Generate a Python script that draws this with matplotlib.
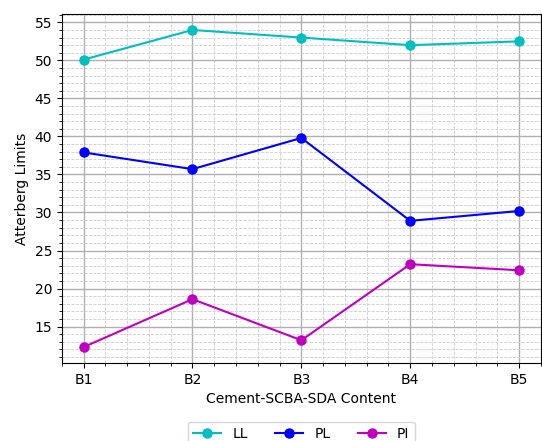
import numpy as np
import matplotlib.pyplot as plt
from matplotlib.ticker import MultipleLocator

# Atterberg limits per mix
mixes = ["B1", "B2", "B3", "B4", "B5"]
ll = [50.1, 54.0, 53.0, 52.0, 52.5]
pl = [37.9, 35.7, 39.8, 28.9, 30.2]
pi = [12.3, 18.6, 13.2, 23.2, 22.4]

fig = plt.figure(figsize=(5.42, 4.41), dpi=100)
ax = fig.add_axes([0.114, 0.177, 0.884, 0.791])

x = np.arange(len(mixes))
ax.plot(x, ll, "c-o", label="LL", markersize=6.5, linewidth=1.5)
ax.plot(x, pl, "b-o", label="PL", markersize=6.5, linewidth=1.5)
ax.plot(x, pi, "m-o", label="PI", markersize=6.5, linewidth=1.5)

ax.set_xticks(x)
ax.set_xticklabels(mixes)
ax.xaxis.set_minor_locator(MultipleLocator(0.2))
ax.yaxis.set_major_locator(MultipleLocator(5))
ax.yaxis.set_minor_locator(MultipleLocator(1))

ax.grid(which="major", color="#b0b0b0", linestyle="-", linewidth=1.0)
ax.grid(which="minor", color="#cccccc", linestyle="--", linewidth=0.6)

ax.set_xlabel("Cement-SCBA-SDA Content")
ax.set_ylabel("Atterberg Limits")

ax.legend(loc="upper center", bbox_to_anchor=(0.5, -0.148), ncol=3)

fig.savefig("out.png", dpi=100)
